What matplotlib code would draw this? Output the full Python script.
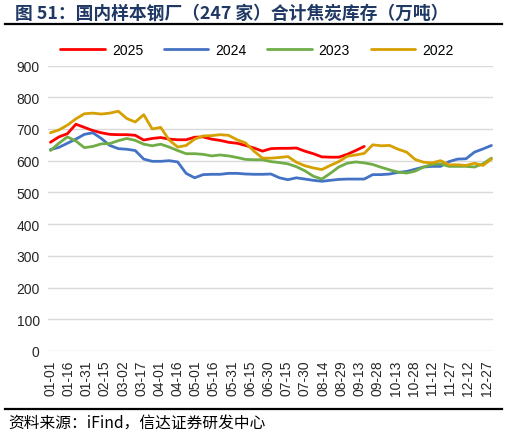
import numpy as np
import matplotlib.pyplot as plt
import datetime as dt

plt.rcParams['font.family'] = ['Liberation Sans', 'Noto Sans CJK SC', 'DejaVu Sans']

##########  DATA  ##########
# weekly readings, day-of-year positions 0, 7, 14, ...
v2025 = [658, 675, 685, 715, 705, 695, 688, 683, 682, 682, 680, 665, 670, 673, 668, 666,
         666, 674, 675, 668, 664, 658, 655, 648, 640, 630, 638, 639, 639, 640, 630, 622,
         612, 611, 611, 620, 632, 645]
v2024 = [635, 642, 655, 668, 683, 688, 670, 648, 638, 636, 632, 605, 598, 598, 600, 596,
         560, 546, 556, 557, 557, 560, 560, 558, 557, 557, 558, 546, 540, 546, 542, 538,
         535, 538, 541, 542, 542, 542, 556, 556, 558, 563, 566, 573, 580, 582, 582, 597,
         605, 606, 627, 637, 648]
v2023 = [632, 655, 675, 662, 641, 645, 653, 654, 663, 670, 664, 652, 647, 652, 643, 632,
         622, 622, 620, 615, 618, 615, 610, 604, 603, 603, 597, 594, 590, 581, 568, 551,
         542, 560, 580, 592, 596, 593, 588, 579, 571, 564, 561, 567, 580, 588, 590, 582,
         582, 582, 580, 590, 608]
v2022 = [688, 697, 712, 732, 748, 750, 747, 750, 756, 733, 722, 745, 700, 705, 665, 643,
         648, 668, 678, 679, 682, 680, 666, 656, 630, 608, 608, 610, 613, 595, 584, 577,
         572, 585, 597, 614, 618, 623, 650, 647, 648, 636, 627, 604, 595, 593, 600, 587,
         587, 585, 592, 585, 605]

series = {'2025': v2025, '2024': v2024, '2023': v2023, '2022': v2022}
colors = {'2025': '#FF0000', '2024': '#4472C4', '2023': '#70AD47', '2022': '#D6A000'}

tick_days = np.arange(0, 361, 15)
tick_labels = [(dt.date(2023, 1, 1) + dt.timedelta(days=int(d))).strftime('%m-%d') for d in tick_days]

##########  PLOT  ##########
fig = plt.figure(figsize=(5.07, 4.35), dpi=100)
ax = fig.add_axes([0.0947, 0.191, 0.877, 0.656])

for name, vals in series.items():
    days = np.arange(len(vals)) * 7
    ax.plot(days, vals, color=colors[name], lw=2.0, label=name, solid_capstyle='round')

ax.set_xlim(-2, 365)
ax.set_ylim(0, 900)
ax.set_yticks(np.arange(0, 901, 100))
ax.set_xticks(tick_days)
ax.set_xticklabels(tick_labels, rotation=90, fontsize=10, color='#262626')
ax.tick_params(axis='y', labelsize=10, labelcolor='#262626')
ax.tick_params(length=0, pad=6)
ax.grid(axis='y', color='#D9D9D9', lw=1.0)
ax.set_axisbelow(True)
for s in ax.spines.values():
    s.set_visible(False)

ax.legend(loc='lower center', bbox_to_anchor=(0.47, 1.0), ncol=4, frameon=False,
          fontsize=10, handlelength=3.2, columnspacing=1.5, handletextpad=0.5,
          borderaxespad=0.2)

# title and source
fig.text(0.03, 0.969, '图 51：国内样本钢厂（247 家）合计焦炭库存（万吨）', fontsize=12.8,
         fontweight='bold', color='#1F3864', family=['Noto Sans CJK SC', 'DejaVu Sans'],
         va='center', ha='left')
fig.add_artist(plt.Line2D([0.01, 0.99], [0.942, 0.942], color='black', lw=1.6))
fig.add_artist(plt.Line2D([0.01, 0.99], [0.057, 0.057], color='black', lw=1.6))
fig.text(0.016, 0.028, '资料来源：iFind，信达证券研发中心', fontsize=11.3, style='italic',
         color='black', family=['Noto Sans CJK SC', 'DejaVu Sans'], va='center', ha='left')

fig.savefig('out.png', dpi=100)
